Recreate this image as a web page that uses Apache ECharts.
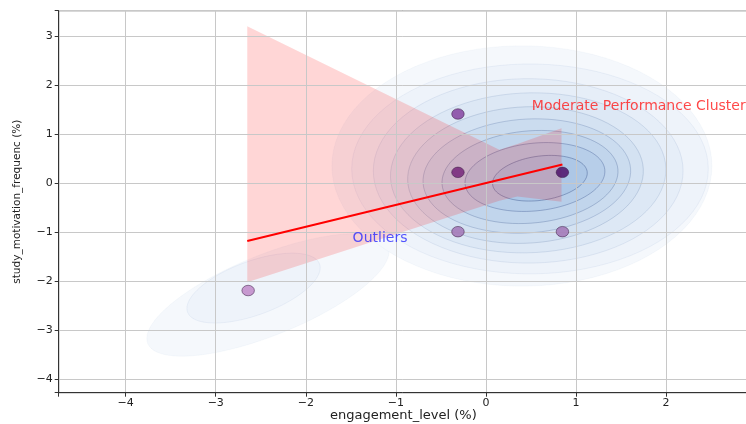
<!DOCTYPE html>
<html>
<head>
<meta charset="utf-8">
<script src="https://cdn.jsdelivr.net/npm/echarts@6/dist/echarts.min.js"></script>
<style>
  html, body { margin: 0; padding: 0; background: #fff; }
  #main { width: 746px; height: 424px; }
</style>
</head>
<body>
<div id="main"></div>
<script>
  // scatter points (engagement_level, study_motivation_frequenc) + colour group
  var pointX = [-0.31, -0.31, 0.85, -0.31, 0.85, -2.64]
  var pointY = [1.41, 0.22, 0.22, -0.99, -0.99, -2.19]
  var pointGroup = [3, 4, 5, 2, 2, 1]

  // regression line and its confidence band
  var fitX = [-2.65, 0.85]
  var fitY = [-1.18, 0.38]
  var bandX = [-2.65, 0.15, 0.35, 0.84]
  var bandUpper = [3.20, 0.68, 0.80, 1.12]
  var bandLower = [-2.02, -0.36, -0.27, -0.38]

  // kde contour levels, read as ellipses: centre, half widths, tilt (deg), level
  var kdeLevel = [1, 1, 2, 2, 3, 4, 5, 6, 7, 8, 9]
  var kdeCx = [-2.42, 0.40, -2.58, 0.49, 0.47, 0.47, 0.44, 0.455, 0.49, 0.545, 0.60]
  var kdeCy = [-2.28, 0.35, -2.14, 0.29, 0.25, 0.21, 0.165, 0.145, 0.125, 0.125, 0.10]
  var kdeRx = [1.44, 2.11, 0.78, 1.98, 1.72, 1.53, 1.31, 1.155, 0.98, 0.78, 0.53]
  var kdeRy = [0.82, 2.45, 0.55, 2.14, 1.88, 1.63, 1.39, 1.16, 0.94, 0.69, 0.45]
  var kdeTilt = [22, 0, 20, 0, 0, 2, 3, 4, 5, 6, 8]

  // text annotations
  var annotText = ['Moderate Performance Cluster', 'Outliers']
  var annotX = [0.51, -1.48]
  var annotY = [1.57, -1.13]

  var font = 'DejaVu Sans'
  var levelFill = ['#f5f8fc', '#eef3fa', '#e6eef8', '#dde8f5', '#d4e2f2', '#cbdcef', '#c1d5ec', '#b7cee9', '#adc7e6']
  var levelStroke = ['rgba(140,165,205,0.08)', 'rgba(130,155,200,0.14)', 'rgba(120,145,190,0.2)', 'rgba(110,135,180,0.26)',
    'rgba(100,125,170,0.32)', 'rgba(90,115,165,0.38)', 'rgba(80,105,155,0.44)', 'rgba(70,95,150,0.5)', 'rgba(60,85,140,0.55)']

  function tickFmt (v) {
    if (Math.abs(v - Math.round(v)) > 1e-6) return ''
    v = Math.round(v)
    return v < 0 ? '\u2212' + (-v) : String(v)
  }

  function renderContour (params, api) {
    var c = api.coord([api.value(0), api.value(1)])
    var s = api.size([api.value(2), api.value(3)])
    var a = api.value(4) * Math.PI / 180
    var lvl = api.value(5) - 1
    var pts = []
    for (var k = 0; k < 90; k++) {
      var t = k / 90 * Math.PI * 2
      var ex = s[0] * Math.cos(t)
      var ey = s[1] * Math.sin(t)
      pts.push([c[0] + ex * Math.cos(a) + ey * Math.sin(a), c[1] - ex * Math.sin(a) + ey * Math.cos(a)])
    }
    return {
      type: 'polygon',
      shape: { points: pts },
      style: { fill: levelFill[lvl], stroke: levelStroke[lvl], lineWidth: 0.8 }
    }
  }

  function renderBand (params, api) {
    if (params.dataIndex !== 0) return
    var pts = []
    for (var i = 0; i < bandX.length; i++) pts.push(api.coord([bandX[i], bandUpper[i]]))
    for (var j = bandX.length - 1; j >= 0; j--) pts.push(api.coord([bandX[j], bandLower[j]]))
    return {
      type: 'polygon',
      shape: { points: pts },
      style: { fill: 'rgba(255,0,0,0.16)' }
    }
  }

  var chart = echarts.init(document.getElementById('main'))
  chart.setOption({
    animation: false,
    grid: {
      left: 58.7, top: 10.7, right: -2, bottom: 31.3, outerBoundsMode: 'none', containLabel: false,
      show: true, borderColor: '#333', borderWidth: 1
    },
    xAxis: {
      type: 'value', min: -4.744, max: 2.911, minInterval: 1, maxInterval: 1, z: 3,
      name: 'engagement_level (%)', nameLocation: 'middle', nameGap: 16, nameMoveOverlap: false,
      nameTextStyle: { fontFamily: font, fontSize: 13, color: '#222' },
      axisLine: { onZero: false, lineStyle: { color: '#333' } },
      axisTick: { length: 4, lineStyle: { color: '#333' } },
      axisLabel: { formatter: tickFmt, fontFamily: font, fontSize: 11, color: '#222', margin: 5 },
      splitLine: { show: true, lineStyle: { color: '#c8c8c8', width: 1 } }
    },
    yAxis: {
      type: 'value', min: -4.273, max: 3.516, minInterval: 1, maxInterval: 1, z: 3,
      name: 'study_motivation_frequenc (%)', nameLocation: 'middle', nameGap: 36, nameRotate: 90,
      nameMoveOverlap: false,
      nameTextStyle: { fontFamily: font, fontSize: 10.5, color: '#222' },
      axisLine: { onZero: false, lineStyle: { color: '#333' } },
      axisTick: { length: 4, lineStyle: { color: '#333' } },
      axisLabel: { formatter: tickFmt, fontFamily: font, fontSize: 11, color: '#222', margin: 6 },
      splitLine: { show: true, lineStyle: { color: '#c8c8c8', width: 1 } }
    },
    visualMap: {
      show: false, type: 'continuous', dimension: 2, seriesIndex: 3, min: 1, max: 5,
      inRange: { color: ['#c28fcb', '#a47bb9', '#8b4ea6', '#7a2c7d', '#531a6f'] }
    },
    series: [
      {
        type: 'custom', z: 1, silent: true, renderItem: renderContour,
        encode: { x: 0, y: 1 },
        data: kdeLevel.map(function (l, i) { return [kdeCx[i], kdeCy[i], kdeRx[i], kdeRy[i], kdeTilt[i], l] })
      },
      {
        type: 'custom', z: 2, silent: true, renderItem: renderBand,
        encode: { x: 0, y: 1 },
        data: bandX.map(function (x, i) { return [x, bandLower[i], bandUpper[i]] })
      },
      {
        type: 'line', z: 4, silent: true, symbol: 'none',
        lineStyle: { color: '#ff0000', width: 2 },
        data: fitX.map(function (x, i) { return [x, fitY[i]] })
      },
      {
        type: 'scatter', z: 5, symbolSize: [12.5, 10.5],
        itemStyle: { borderColor: 'rgba(50,20,60,0.7)', borderWidth: 0.8, opacity: 0.9 },
        data: pointX.map(function (x, i) { return [x, pointY[i], pointGroup[i]] })
      },
      {
        type: 'scatter', z: 6, symbolSize: 0, silent: true,
        data: annotText.map(function (t, i) {
          return {
            value: [annotX[i], annotY[i]],
            label: { color: ['#ff1a1a', '#2b2bff'][i] }
          }
        }),
        label: {
          show: true, position: [0, 0], align: 'left', verticalAlign: 'middle',
          fontFamily: font, fontSize: 14,
          formatter: function (p) { return annotText[p.dataIndex] }
        }
      }
    ]
  })
</script>
</body>
</html>
